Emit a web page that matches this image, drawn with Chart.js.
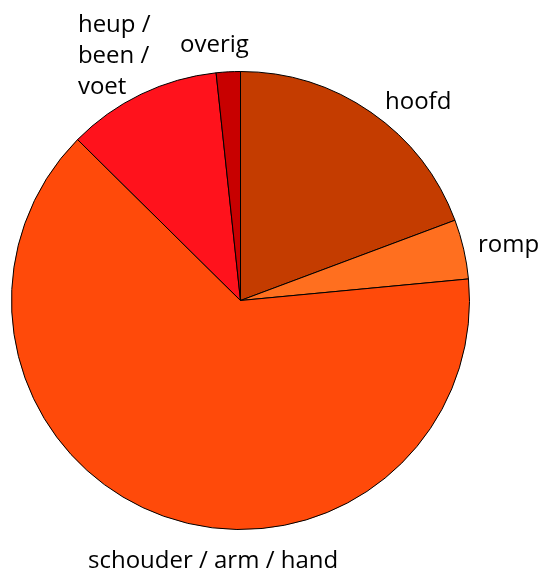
<!DOCTYPE html>
<html>
<head>
<meta charset="utf-8">
<script src="https://cdn.jsdelivr.net/npm/chart.js@4/dist/chart.umd.min.js"></script>
<style>
  html, body { margin: 0; padding: 0; background: #fff; }
  #wrap { width: 541px; height: 573px; position: relative; }
</style>
</head>
<body>
<div id="wrap"><canvas id="c" width="541" height="573"></canvas></div>
<script>
// Body regions and their share (%) of the injuries
const categories = ['hoofd', 'romp', 'schouder / arm / hand', 'heup / been / voet', 'overig'];
const shares = [19.3, 4.2, 63.9, 10.9, 1.7];
const sliceColors = ['#C43C00', '#FF6F1F', '#FF4A0A', '#FF121C', '#C80000'];

// Label anchor (left edge, text baseline) relative to the pie centre,
// in units of the radius; multi-line labels list their lines.
const labelLayout = [
  { dx: 0.631, dy: -0.836 },
  { dx: 1.037, dy: -0.212 },
  { dx: -0.666, dy: 1.168 },
  { dx: -0.710, dy: -1.172, lines: ['heup /', 'been /', 'voet'] },
  { dx: -0.264, dy: -1.085 }
];

const pieLabels = {
  id: 'pieLabels',
  afterDatasetsDraw(chart) {
    const ctx = chart.ctx;
    const arc = chart.getDatasetMeta(0).data[0];
    const cx = arc.x, cy = arc.y, r = arc.outerRadius;
    ctx.save();
    ctx.fillStyle = '#000';
    ctx.font = '24px "Open Sans", sans-serif';
    ctx.textAlign = 'left';
    ctx.textBaseline = 'alphabetic';
    categories.forEach((name, i) => {
      const L = labelLayout[i];
      const lines = L.lines || [name];
      const x = cx + L.dx * r;
      const y0 = cy + L.dy * r;
      lines.forEach((t, k) => ctx.fillText(t, x, y0 + k * 31));
    });
    ctx.restore();
  }
};

new Chart(document.getElementById('c'), {
  type: 'pie',
  data: {
    labels: categories,
    datasets: [{
      data: shares,
      backgroundColor: sliceColors,
      borderColor: '#000',
      borderWidth: 1
    }]
  },
  options: {
    responsive: false,
    animation: false,
    layout: { padding: { left: 11, right: 71, top: 71, bottom: 43 } },
    plugins: { legend: { display: false }, tooltip: { enabled: false } }
  },
  plugins: [pieLabels]
});
</script>
</body>
</html>
